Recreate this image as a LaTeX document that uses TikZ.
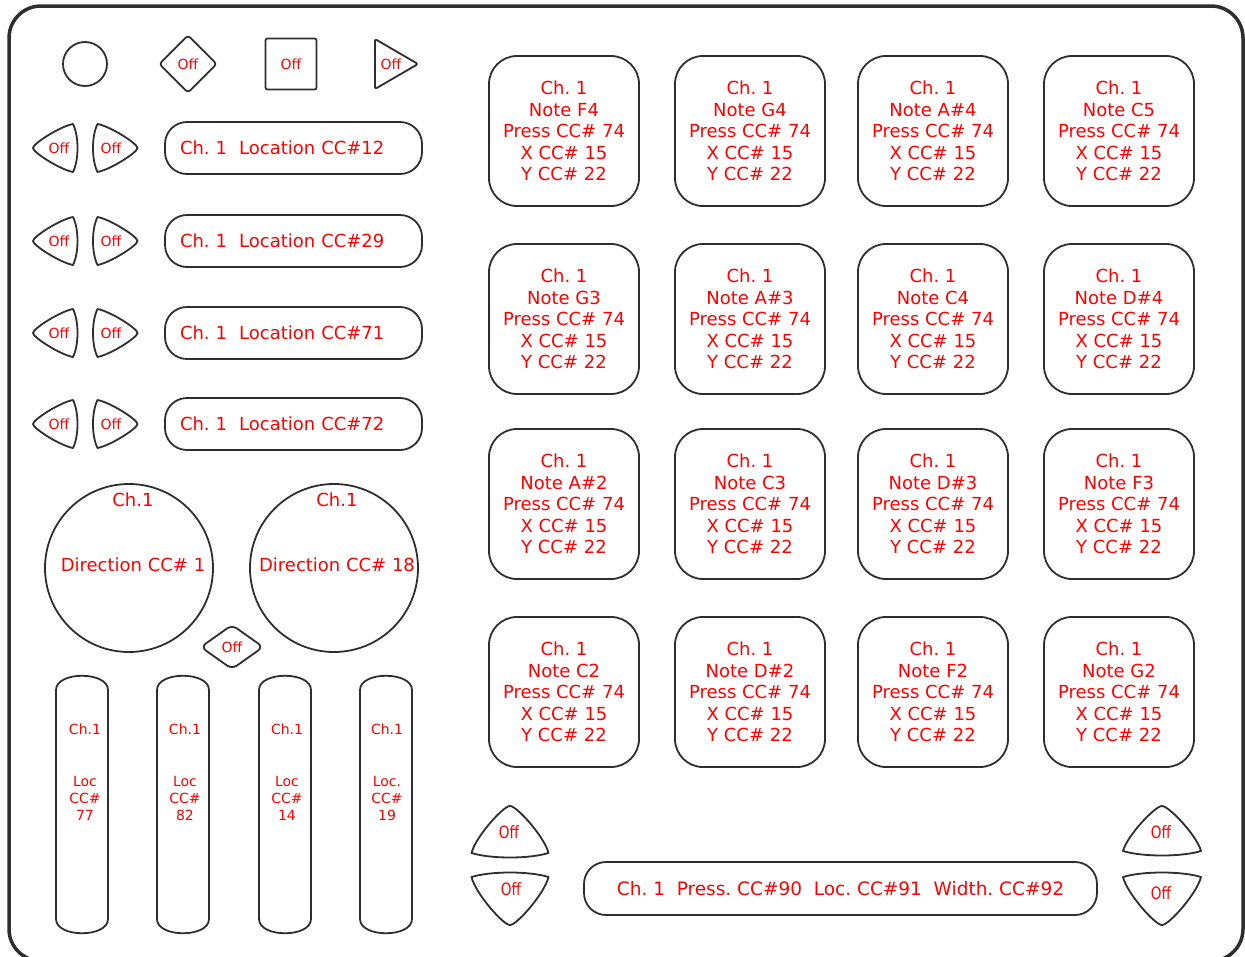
\documentclass[tikz,border=0pt]{standalone}
\usepackage{graphicx}
\usepackage{fontspec}
\setmainfont{DejaVu Sans}
\usetikzlibrary{shapes.geometric}

\definecolor{edge}{HTML}{2E2E2E}
\definecolor{labelred}{HTML}{FF0000}

\newcommand{\padtext}[1]{Ch.\ 1\\Note #1\\Press CC\# 74\\X CC\# 15\\Y CC\# 22}
\newcommand{\narrowoff}{\scalebox{0.8}[1]{Off}}

\tikzset{
  btn/.style={draw=edge, line width=1.8pt, line join=round},
  big/.style={text=labelred, font=\fontsize{18}{21.5}\selectfont},
  offtxt/.style={text=labelred, font=\fontsize{14}{16}\selectfont},
  small/.style={text=labelred, font=\fontsize{14}{17}\selectfont},
  narrow/.style={text=labelred, font=\fontsize{17}{19}\selectfont},
  pad/.style={btn, minimum size=150pt, rounded corners=28pt, align=center, big},
  bar/.style={btn, minimum width=257pt, minimum height=52pt, rounded corners=22pt,
    inner xsep=15pt, text width=227pt, align=left, big},
  pics/pick/.style 2 args={code={
    \draw[btn] (0,{-#2/2}) .. controls ({-0.18*#1},{-#2/2}) and ({-0.9*#1},{0.1*#2}) .. ({-#1},{#2/2-5})
      .. controls ({-0.5*#1},{#2/2+1}) and ({0.5*#1},{#2/2+1}) .. ({#1},{#2/2-5})
      .. controls ({0.9*#1},{0.1*#2}) and ({0.18*#1},{-#2/2}) .. cycle;
  }}
}

\begin{document}
\frenchspacing
\begin{tikzpicture}[x=1pt, y=-1pt]
  \useasboundingbox (0,0) rectangle (1245,956);

  % Frame
  \begin{scope}
    \clip (0,0) rectangle (1245,956);
    \draw[draw=edge, line width=3.5pt, rounded corners=32pt] (9,6) rectangle (1243,961);
  \end{scope}

  % Top row
  \node[btn, circle, minimum size=44pt] (knob) at (85,64) {};
  \node[btn, diamond, minimum width=58pt, minimum height=58pt, rounded corners=3pt, offtxt] (diaOff) at (188,64) {Off};
  \node[btn, minimum size=51pt, rounded corners=2pt, offtxt] (sqOff) at (291,64) {Off};
  \draw[btn, rounded corners=2pt] (375,39) -- (418,64) -- (375,89) -- cycle;
  \node[offtxt] (triOff) at (391,64) {Off};

  % Side buttons
  \pic[rotate=90] at (55.5,148) {pick={24}{45}};
  \pic[rotate=-90] at (115,148) {pick={24}{45}};
  \pic[rotate=90] at (55.5,241) {pick={24}{45}};
  \pic[rotate=-90] at (115,241) {pick={24}{45}};
  \pic[rotate=90] at (55.5,333) {pick={24}{45}};
  \pic[rotate=-90] at (115,333) {pick={24}{45}};
  \pic[rotate=90] at (55.5,424) {pick={24}{45}};
  \pic[rotate=-90] at (115,424) {pick={24}{45}};
  \node[offtxt] (lOffA) at (59,148) {Off};
  \node[offtxt] (rOffA) at (111,148) {Off};
  \node[offtxt] (lOffB) at (59,241) {Off};
  \node[offtxt] (rOffB) at (111,241) {Off};
  \node[offtxt] (lOffC) at (59,333) {Off};
  \node[offtxt] (rOffC) at (111,333) {Off};
  \node[offtxt] (lOffD) at (59,424) {Off};
  \node[offtxt] (rOffD) at (111,424) {Off};

  % Location strips
  \node[bar] (locA) at (293.5,148) {Ch. 1\ \ Location CC\#12};
  \node[bar] (locB) at (293.5,241) {Ch. 1\ \ Location CC\#29};
  \node[bar] (locC) at (293.5,333) {Ch. 1\ \ Location CC\#71};
  \node[bar] (locD) at (293.5,424) {Ch. 1\ \ Location CC\#72};

  % Direction circles
  \node[btn, circle, minimum size=168pt] (dirA) at (129,568) {};
  \node[btn, circle, minimum size=168pt] (dirB) at (334,568) {};
  \node[big] (dirAch) at (133,500) {Ch.1};
  \node[big] (dirAcc) at (133,565) {Direction CC\# 1};
  \node[big] (dirBch) at (337,500) {Ch.1};
  \node[big] (dirBcc) at (337,565) {Direction CC\# 18};
  \node[btn, diamond, minimum width=63pt, minimum height=44pt, rounded corners=6pt, offtxt] (midOff) at (232,647) {Off};

  % Sliders
  \draw[btn] (56,690) .. controls (56,671) and (108,671) .. (108,690) -- (108,919) .. controls (108,938) and (56,938) .. (56,919) -- cycle;
  \draw[btn] (157,690) .. controls (157,671) and (209,671) .. (209,690) -- (209,919) .. controls (209,938) and (157,938) .. (157,919) -- cycle;
  \draw[btn] (259,690) .. controls (259,671) and (311,671) .. (311,690) -- (311,919) .. controls (311,938) and (259,938) .. (259,919) -- cycle;
  \draw[btn] (360,690) .. controls (360,671) and (412,671) .. (412,690) -- (412,919) .. controls (412,938) and (360,938) .. (360,919) -- cycle;
  \node[small] (slAch) at (85,729) {Ch.1};
  \node[small, align=center] (slAcc) at (85,798) {Loc\\CC\#\\77};
  \node[small] (slBch) at (185,729) {Ch.1};
  \node[small, align=center] (slBcc) at (185,798) {Loc\\CC\#\\82};
  \node[small] (slCch) at (287,729) {Ch.1};
  \node[small, align=center] (slCcc) at (287,798) {Loc\\CC\#\\14};
  \node[small] (slDch) at (387,729) {Ch.1};
  \node[small, align=center] (slDcc) at (387,798) {Loc.\\CC\#\\19};

  % Pads
  \node[pad] (padF4) at (564,131) {\padtext{F4}};
  \node[pad] (padG4) at (750,131) {\padtext{G4}};
  \node[pad] (padAs4) at (933,131) {\padtext{A\#4}};
  \node[pad] (padC5) at (1119,131) {\padtext{C5}};
  \node[pad] (padG3) at (564,319) {\padtext{G3}};
  \node[pad] (padAs3) at (750,319) {\padtext{A\#3}};
  \node[pad] (padC4) at (933,319) {\padtext{C4}};
  \node[pad] (padDs4) at (1119,319) {\padtext{D\#4}};
  \node[pad] (padAs2) at (564,504) {\padtext{A\#2}};
  \node[pad] (padC3) at (750,504) {\padtext{C3}};
  \node[pad] (padDs3) at (933,504) {\padtext{D\#3}};
  \node[pad] (padF3) at (1119,504) {\padtext{F3}};
  \node[pad] (padC2) at (564,692) {\padtext{C2}};
  \node[pad] (padDs2) at (750,692) {\padtext{D\#2}};
  \node[pad] (padF2) at (933,692) {\padtext{F2}};
  \node[pad] (padG2) at (1119,692) {\padtext{G2}};

  % Bottom buttons and touch strip
  \pic at (510,832) {pick={38.5}{52}};
  \pic[rotate=180] at (510,898.5) {pick={38.5}{53}};
  \pic at (1162,831) {pick={39}{50}};
  \pic[rotate=180] at (1162,898.5) {pick={39}{53}};
  \node[narrow] (dnOffL) at (509,832) {\narrowoff};
  \node[narrow] (upOffL) at (511,889) {\narrowoff};
  \node[narrow] (dnOffR) at (1161,832) {\narrowoff};
  \node[narrow] (upOffR) at (1161,893) {\narrowoff};
  \node[btn, minimum width=513pt, minimum height=53pt, rounded corners=22pt, text=labelred,
    font=\fontsize{18.5}{21.5}\selectfont] (touch) at (840.5,888.5)
    {Ch. 1\ \ Press. CC\#90\ \ Loc. CC\#91\ \ Width. CC\#92};
\end{tikzpicture}
\end{document}
